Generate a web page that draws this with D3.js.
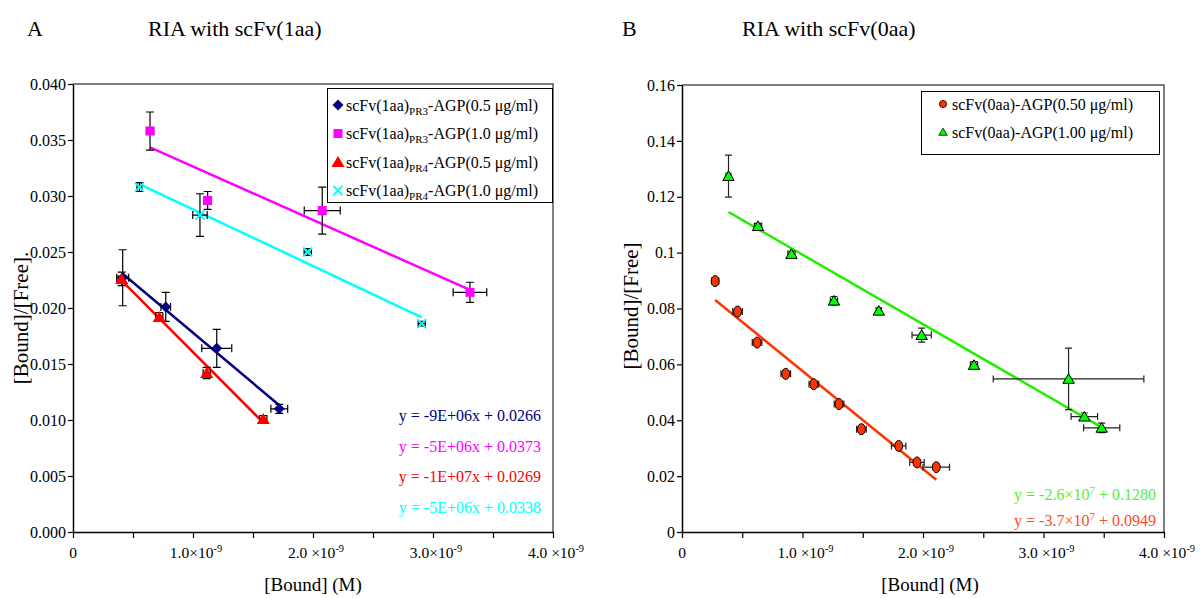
<!DOCTYPE html>
<html><head><meta charset="utf-8">
<script src="https://cdn.jsdelivr.net/npm/d3@7"></script>
<style>
body{margin:0;background:#fff;}
svg text{font-family:"Liberation Serif","Times New Roman",serif !important;fill:#000;}
</style>
</head><body>
<svg id="c" width="1204" height="598" xmlns="http://www.w3.org/2000/svg"></svg>
<script>
// ---------------- DATA ----------------
// Panel A : RIA with scFv(1aa)  (x in M, y = Bound/Free)
const aPR3_05_x    = [0.414e-9, 0.773e-9, 1.198e-9, 1.719e-9];
const aPR3_05_y    = [0.0227, 0.0201, 0.0164, 0.0110];
const aPR3_05_xerr = [0.05e-9, 0.04e-9, 0.125e-9, 0.07e-9];
const aPR3_05_yerr = [0.0025, 0.0013, 0.0017, 0.0004];

const aPR3_10_x    = [0.642e-9, 1.122e-9, 2.077e-9, 3.308e-9];
const aPR3_10_y    = [0.0358, 0.0296, 0.0287, 0.0214];
const aPR3_10_xerr = [0.03e-9, 0.03e-9, 0.15e-9, 0.14e-9];
const aPR3_10_yerr = [0.0017, 0.0008, 0.0021, 0.0009];

const aPR4_05_x    = [0.406e-9, 0.719e-9, 1.114e-9, 1.586e-9];
const aPR4_05_y    = [0.0226, 0.0192, 0.0142, 0.0101];
const aPR4_05_xerr = [0.03e-9, 0.03e-9, 0.03e-9, 0.03e-9];
const aPR4_05_yerr = [0.0006, 0.0004, 0.0005, 0.0003];

const aPR4_10_x    = [0.553e-9, 1.058e-9, 1.956e-9, 2.906e-9];
const aPR4_10_y    = [0.0308, 0.0283, 0.0250, 0.0186];
const aPR4_10_xerr = [0.02e-9, 0.06e-9, 0.03e-9, 0.03e-9];
const aPR4_10_yerr = [0.0004, 0.0019, 0.0003, 0.0002];

const aEquations = ["y = -9E+06x + 0.0266", "y = -5E+06x + 0.0373", "y = -1E+07x + 0.0269", "y = -5E+06x + 0.0338"];

// Panel B : RIA with scFv(0aa)
const b050_x    = [0.275e-9, 0.461e-9, 0.623e-9, 0.861e-9, 1.094e-9, 1.303e-9, 1.489e-9, 1.798e-9, 1.950e-9, 2.110e-9];
const b050_y    = [0.0898, 0.0789, 0.0678, 0.0566, 0.0529, 0.0458, 0.0368, 0.0308, 0.0249, 0.0232];
const b050_xerr = [0.03e-9, 0.04e-9, 0.04e-9, 0.04e-9, 0.04e-9, 0.04e-9, 0.04e-9, 0.06e-9, 0.06e-9, 0.11e-9];
const b050_yerr = [0.0010, 0.0010, 0.0010, 0.0010, 0.0010, 0.0010, 0.0010, 0.0010, 0.0010, 0.0010];

const b100_x    = [0.386e-9, 0.631e-9, 0.908e-9, 1.261e-9, 1.633e-9, 1.989e-9, 2.423e-9, 3.208e-9, 3.339e-9, 3.483e-9];
const b100_y    = [0.1274, 0.1095, 0.0995, 0.0828, 0.0792, 0.0705, 0.0598, 0.0548, 0.0413, 0.0373];
const b100_xerr = [0.02e-9, 0.03e-9, 0.03e-9, 0.03e-9, 0.02e-9, 0.08e-9, 0.03e-9, 0.625e-9, 0.11e-9, 0.15e-9];
const b100_yerr = [0.0075, 0.0010, 0.0010, 0.0015, 0.0010, 0.0025, 0.0012, 0.0110, 0.0013, 0.0017];

const bEquations = [["y = -2.6×10", "7", " + 0.1280"], ["y = -3.7×10", "7", " + 0.0949"]];

// Axes
const xTickValues = [0, 1e-9, 2e-9, 3e-9, 4e-9];
const xMinorTicks = [0, 0.5e-9, 1e-9, 1.5e-9, 2e-9, 2.5e-9, 3e-9, 3.5e-9, 4e-9];
const xTickLabelsA = [["0",""], ["1.0×10","-9"], ["2.0 ×10","-9"], ["3.0×10","-9"], ["4.0 ×10","-9"]];
const xTickLabelsB = [["0",""], ["1.0 ×10","-9"], ["2.0 ×10","-9"], ["3.0 ×10","-9"], ["4.0 ×10","-9"]];
const yTicksA = [0, 0.005, 0.010, 0.015, 0.020, 0.025, 0.030, 0.035, 0.040];
const yTickLabelsA = ["0.000","0.005","0.010","0.015","0.020","0.025","0.030","0.035","0.040"];
const yTicksB = [0, 0.02, 0.04, 0.06, 0.08, 0.10, 0.12, 0.14, 0.16];
const yTickLabelsB = ["0","0.02","0.04","0.06","0.08","0.1","0.12","0.14","0.16"];

// ---------------- DRAW ----------------
const svg = d3.select("#c");
svg.append("rect").attr("width",1204).attr("height",598).attr("fill","#fff");

function fit(xs, ys){
  const mx = d3.mean(xs), my = d3.mean(ys);
  let sxy=0, sxx=0;
  xs.forEach((x,i)=>{ sxy += (x-mx)*(ys[i]-my); sxx += (x-mx)*(x-mx); });
  const m = sxy/sxx; return {m, b: my - m*mx};
}

function panel(opt){
  const g = svg.append("g");
  const x = d3.scaleLinear().domain([0,4e-9]).range([opt.x0, opt.x1]);
  const y = d3.scaleLinear().domain([0, opt.ymax]).range([opt.yb, opt.yt]);
  g.append("path").attr("d", `M${opt.x0},${opt.yt}H${opt.x1}V${opt.yb}`)
    .attr("fill","none").attr("stroke","#555").attr("stroke-width",1.5);
  const xa = g.append("g").attr("transform",`translate(0,${opt.yb})`)
    .call(d3.axisBottom(x).tickValues(xMinorTicks).tickFormat("").tickSizeInner(6).tickSizeOuter(0));
  xa.select(".domain").attr("stroke","#000").attr("stroke-width",1.5);
  xa.selectAll(".tick line").attr("stroke","#000").attr("stroke-width",1.2);
  xTickValues.forEach((v,i)=>{
    const lab = opt.xlabels[i];
    const t = g.append("text").attr("x", x(v) + (lab[1]?3:0)).attr("y", opt.yb+26).attr("text-anchor","middle").attr("font-size",15.5);
    t.append("tspan").text(lab[0]);
    if(lab[1]) t.append("tspan").attr("dy",-6).attr("font-size",10.5).text(lab[1]);
  });
  const ya = g.append("g").attr("transform",`translate(${opt.x0},0)`)
    .call(d3.axisLeft(y).tickValues(opt.yticks).tickFormat((d,i)=>opt.ylabels[i]).tickSizeInner(5).tickSizeOuter(0).tickPadding(2));
  ya.select(".domain").attr("stroke","#000").attr("stroke-width",1.5);
  ya.selectAll(".tick line").attr("stroke","#000").attr("stroke-width",1.2);
  ya.selectAll(".tick text").attr("font-size",16).attr("fill","#000");
  svg.append("text").attr("x",opt.letterX).attr("y",36).attr("font-size",22).text(opt.letter);
  svg.append("text").attr("x",opt.titleX).attr("y",36).attr("font-size",22).text(opt.title);
  svg.append("text").attr("x",opt.xlabX).attr("y",591).attr("text-anchor","middle").attr("font-size",19).text("[Bound] (M)");
  svg.append("text").attr("transform",`translate(${opt.ylabX},${opt.ylabY}) rotate(-90)`)
    .attr("text-anchor","middle").attr("font-size",21).text(opt.ylab);
  return {g,x,y};
}

function errbars(g, x, y, xs, ys, xe, ye, color, cap){
  xs.forEach((xv,i)=>{
    const px = x(xv), py = y(ys[i]);
    const y1 = y(ys[i]-ye[i]), y2 = y(ys[i]+ye[i]);
    const x1 = x(xv-xe[i]), x2 = x(xv+xe[i]);
    const p = `M${px},${y1}V${y2}M${px-cap},${y1}H${px+cap}M${px-cap},${y2}H${px+cap}`+
              `M${x1},${py}H${x2}M${x1},${py-cap}V${py+cap}M${x2},${py-cap}V${py+cap}`;
    g.append("path").attr("d",p).attr("fill","none").attr("stroke",color).attr("stroke-width",1.2);
  });
}

function trend(g, x, y, xs, ys, color, w){
  const f = fit(xs, ys);
  const xa = d3.min(xs), xb = d3.max(xs);
  g.append("line").attr("x1",x(xa)).attr("y1",y(f.m*xa+f.b)).attr("x2",x(xb)).attr("y2",y(f.m*xb+f.b))
    .attr("stroke",color).attr("stroke-width",w);
}

const shapes = {
  diamond: (s)=>`M0,${-s}L${s},0L0,${s}L${-s},0Z`,
  square: (s)=>`M${-s},${-s}H${s}V${s}H${-s}Z`,
  triangle: (s)=>`M0,${-s}L${s*1.1},${s*0.85}H${-s*1.1}Z`,
  cross: (s)=>`M${-s},${-s}L${s},${s}M${-s},${s}L${s},${-s}`
};
function marker(g, px, py, type, size, fill, stroke, sw){
  if(type==="ellipse"){
    g.append("ellipse").attr("cx",px).attr("cy",py).attr("rx",size*0.72).attr("ry",size)
      .attr("fill",fill).attr("stroke",stroke).attr("stroke-width",sw);
  } else if(type==="circle"){
    g.append("circle").attr("cx",px).attr("cy",py).attr("r",size).attr("fill",fill).attr("stroke",stroke).attr("stroke-width",sw);
  } else {
    g.append("path").attr("transform",`translate(${px},${py})`).attr("d",shapes[type](size))
      .attr("fill", type==="cross"?"none":fill).attr("stroke", stroke).attr("stroke-width", sw);
  }
}

// ---------- Panel A ----------
const A = panel({x0:73, x1:553, yt:84, yb:532, ymax:0.04, yticks:yTicksA, ylabels:yTickLabelsA,
  xlabels:xTickLabelsA, letter:"A", letterX:27, title:"RIA with scFv(1aa)", titleX:148, xlabX:313,
  ylab:"[Bound]/[Free].", ylabX:28, ylabY:318});

const seriesA = [
  {xs:aPR3_05_x, ys:aPR3_05_y, xe:aPR3_05_xerr, ye:aPR3_05_yerr, color:"#000080", type:"diamond", size:5.5, sub:"PR3", conc:"0.5"},
  {xs:aPR3_10_x, ys:aPR3_10_y, xe:aPR3_10_xerr, ye:aPR3_10_yerr, color:"#FF00FF", type:"square", size:4.5, sub:"PR3", conc:"1.0"},
  {xs:aPR4_05_x, ys:aPR4_05_y, xe:aPR4_05_xerr, ye:aPR4_05_yerr, color:"#FF0000", type:"triangle", size:6, sub:"PR4", conc:"0.5"},
  {xs:aPR4_10_x, ys:aPR4_10_y, xe:aPR4_10_xerr, ye:aPR4_10_yerr, color:"#00FFFF", type:"cross", size:4.5, sub:"PR4", conc:"1.0"}
];
seriesA.forEach(s=>trend(A.g, A.x, A.y, s.xs, s.ys, s.color, 2.5));
seriesA.forEach(s=>{
  errbars(A.g, A.x, A.y, s.xs, s.ys, s.xe, s.ye, "#000", 4);
  s.xs.forEach((xv,i)=>marker(A.g, A.x(xv), A.y(s.ys[i]), s.type, s.size, s.color, s.type==="cross"?s.color:"none", s.type==="cross"?1.8:0));
});
const legA = svg.append("g");
legA.append("rect").attr("x",327.5).attr("y",88.5).attr("width",225).attr("height",114)
  .attr("fill","#fff").attr("stroke","#000").attr("stroke-width",1);
seriesA.forEach((s,i)=>{
  const cy = 105 + i*28.5;
  marker(legA, 338, cy, s.type, s.size, s.color, s.type==="cross"?s.color:"none", s.type==="cross"?1.8:0);
  const t = legA.append("text").attr("x",346).attr("y",cy+5.5).attr("font-size",16);
  t.append("tspan").text("scFv(1aa)");
  t.append("tspan").attr("dy",4).attr("font-size",11).text(s.sub);
  t.append("tspan").attr("dy",-4).text(`-AGP(${s.conc} μg/ml)`);
});
seriesA.forEach((s,i)=>{
  svg.append("text").attr("x",541).attr("y",421 + i*30.7).attr("text-anchor","end")
    .attr("font-size",16).style("fill",s.color).text(aEquations[i]);
});

// ---------- Panel B ----------
const B = panel({x0:682, x1:1164, yt:85, yb:532, ymax:0.16, yticks:yTicksB, ylabels:yTickLabelsB,
  xlabels:xTickLabelsB, letter:"B", letterX:622, title:"RIA with scFv(0aa)", titleX:742, xlabX:930,
  ylab:"[Bound]/[Free]", ylabX:638, ylabY:306});

const seriesB = [
  {xs:b050_x, ys:b050_y, xe:b050_xerr, ye:b050_yerr, color:"#FF3300", line:"#FF3300", eqColor:"#FF4A1A", type:"ellipse", size:5.5, lsize:3.6, ltype:"circle", conc:"0.50"},
  {xs:b100_x, ys:b100_y, xe:b100_xerr, ye:b100_yerr, color:"#00FF00", line:"#22EE00", eqColor:"#55EE33", type:"triangle", size:5.2, lsize:3.8, ltype:"triangle", conc:"1.00"}
];
seriesB.forEach(s=>trend(B.g, B.x, B.y, s.xs, s.ys, s.line, 2.5));
seriesB.forEach(s=>{
  errbars(B.g, B.x, B.y, s.xs, s.ys, s.xe, s.ye, "#222", 3.5);
  s.xs.forEach((xv,i)=>marker(B.g, B.x(xv), B.y(s.ys[i]), s.type, s.size, s.color, "#000", 1));
});
const legB = svg.append("g");
legB.append("rect").attr("x",921.5).attr("y",91.5).attr("width",238).attr("height",63)
  .attr("fill","#fff").attr("stroke","#000").attr("stroke-width",1);
seriesB.forEach((s,i)=>{
  const cy = 104 + i*28;
  marker(legB, 943, cy, s.ltype, s.lsize, s.color, "#000", 0.8);
  legB.append("text").attr("x",952).attr("y",cy+5.5).attr("font-size",16).text(`scFv(0aa)-AGP(${s.conc} μg/ml)`);
});
[1,0].forEach((si,k)=>{
  const e = bEquations[k];
  const t = svg.append("text").attr("x",1156).attr("y",500 + k*26).attr("text-anchor","end")
    .attr("font-size",16).style("fill",seriesB[si].eqColor);
  t.append("tspan").text(e[0]);
  t.append("tspan").attr("dy",-6).attr("font-size",11).text(e[1]);
  t.append("tspan").attr("dy",6).text(e[2]);
});
</script>
</body></html>
